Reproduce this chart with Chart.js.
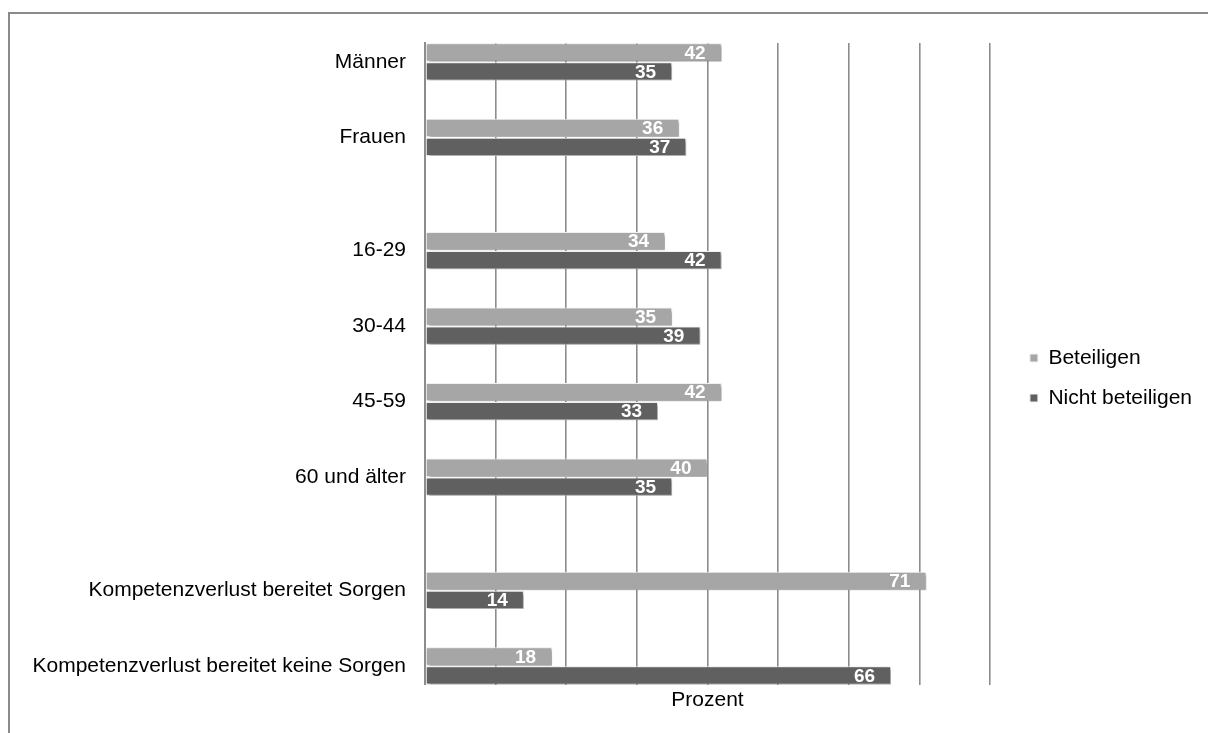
<!DOCTYPE html>
<html lang="de">
<head>
    <meta charset="UTF-8">
    <title>Beteiligen / Nicht beteiligen</title>
    <script src="https://cdn.jsdelivr.net/npm/chart.js"></script>
    <style>
        body {
            margin: 0;
            background: #fff;
            font-family: Arial, "Liberation Sans", sans-serif;
            overflow: hidden;
        }
        #frame {
            position: absolute;
            left: 8px;
            top: 12px;
            width: 1300px;
            height: 800px;
            border: 2px solid #8a8a8a;
        }
        #chart-box {
            position: absolute;
            left: 0;
            top: 0;
            width: 1208px;
            height: 733px;
        }
    </style>
</head>
<body>
    <div id="frame"></div>
    <div id="chart-box"><canvas id="chart"></canvas></div>

    <script>
        // categories, grouped (an extra gap is left between groups)
        const categoryGroups = [
            ["Männer", "Frauen"],
            ["16-29", "30-44", "45-59", "60 und älter"],
            ["Kompetenzverlust bereitet Sorgen", "Kompetenzverlust bereitet keine Sorgen"]
        ];
        const seriesNames = ["Beteiligen", "Nicht beteiligen"];
        const beteiligen = [42, 36, 34, 35, 42, 40, 71, 18];
        const nichtBeteiligen = [35, 37, 42, 39, 33, 35, 14, 66];
        const xMin = 0, xMax = 80, xStep = 10;
        const axisTitle = "Prozent";

        // build half-step slots: spacer after every category, one more between groups
        const labels = [], dataA = [], dataB = [];
        let k = 0;
        categoryGroups.forEach((group, gi) => {
            group.forEach((name, ci) => {
                labels.push(name);
                dataA.push(beteiligen[k]);
                dataB.push(nichtBeteiligen[k]);
                k++;
                const last = gi === categoryGroups.length - 1 && ci === group.length - 1;
                if (!last) { labels.push(""); dataA.push(null); dataB.push(null); }
            });
            if (gi < categoryGroups.length - 1) { labels.push(""); dataA.push(null); dataB.push(null); }
        });

        const font = "Arial, 'Liberation Sans', sans-serif";

        // soft drop shadow under the bars
        const barShadow = {
            id: "barShadow",
            beforeDatasetsDraw(chart) {
                const ctx = chart.ctx;
                ctx.save();
                ctx.shadowColor = "rgba(0,0,0,0.4)";
                ctx.shadowOffsetX = 2;
                ctx.shadowOffsetY = 2;
                ctx.shadowBlur = 3;
            },
            afterDatasetsDraw(chart) {
                chart.ctx.restore();
            }
        };

        // white value labels at the end of each bar
        const valueLabels = {
            id: "valueLabels",
            afterDatasetsDraw(chart) {
                const ctx = chart.ctx;
                ctx.save();
                ctx.font = "bold 19px " + font;
                ctx.fillStyle = "#fff";
                ctx.textAlign = "right";
                ctx.textBaseline = "middle";
                chart.data.datasets.forEach((ds, i) => {
                    chart.getDatasetMeta(i).data.forEach((bar, j) => {
                        const v = ds.data[j];
                        if (v === null || v === undefined) return;
                        ctx.fillText(v, bar.x - 16, bar.y + 1);
                    });
                });
                ctx.restore();
            }
        };

        new Chart(document.getElementById("chart"), {
            type: "bar",
            data: {
                labels: labels,
                datasets: [
                    {
                        label: seriesNames[0],
                        data: dataA,
                        backgroundColor: "#a6a6a6",
                        borderColor: "#f2f2f2",
                        borderWidth: 1,
                        borderSkipped: false,
                        clip: 6
                    },
                    {
                        label: seriesNames[1],
                        data: dataB,
                        backgroundColor: "#606060",
                        borderColor: "#f2f2f2",
                        borderWidth: 1,
                        borderSkipped: false,
                        clip: 6
                    }
                ]
            },
            options: {
                indexAxis: "y",
                responsive: true,
                maintainAspectRatio: false,
                animation: false,
                categoryPercentage: 1,
                barPercentage: 0.97,
                layout: { padding: { top: 43, bottom: 20, left: 0, right: 6 } },
                scales: {
                    x: {
                        min: xMin,
                        max: xMax,
                        ticks: { stepSize: xStep, display: false },
                        grid: { color: "#8c8c8c", lineWidth: 1.6, drawTicks: false },
                        border: { display: false },
                        title: {
                            display: true,
                            text: axisTitle,
                            color: "#000",
                            font: { family: font, size: 21 },
                            padding: { top: 3, bottom: 0 }
                        }
                    },
                    y: {
                        ticks: {
                            autoSkip: false,
                            color: "#000",
                            font: { family: font, size: 21 },
                            padding: 19
                        },
                        grid: { display: false, drawTicks: false },
                        border: { display: true, color: "#8c8c8c", width: 2 },
                        afterFit(scale) { scale.width = 425; }
                    },
                    // empty spacer between plot and legend
                    gap: {
                        type: "category",
                        position: "right",
                        ticks: { display: false },
                        grid: { display: false, drawTicks: false },
                        border: { display: false },
                        afterFit(scale) { scale.width = 21; }
                    }
                },
                plugins: {
                    legend: {
                        position: "right",
                        labels: {
                            boxWidth: 8,
                            boxHeight: 8,
                            padding: 19,
                            color: "#000",
                            font: { family: font, size: 21 }
                        }
                    },
                    tooltip: { enabled: false }
                }
            },
            plugins: [barShadow, valueLabels]
        });
    </script>
</body>
</html>
